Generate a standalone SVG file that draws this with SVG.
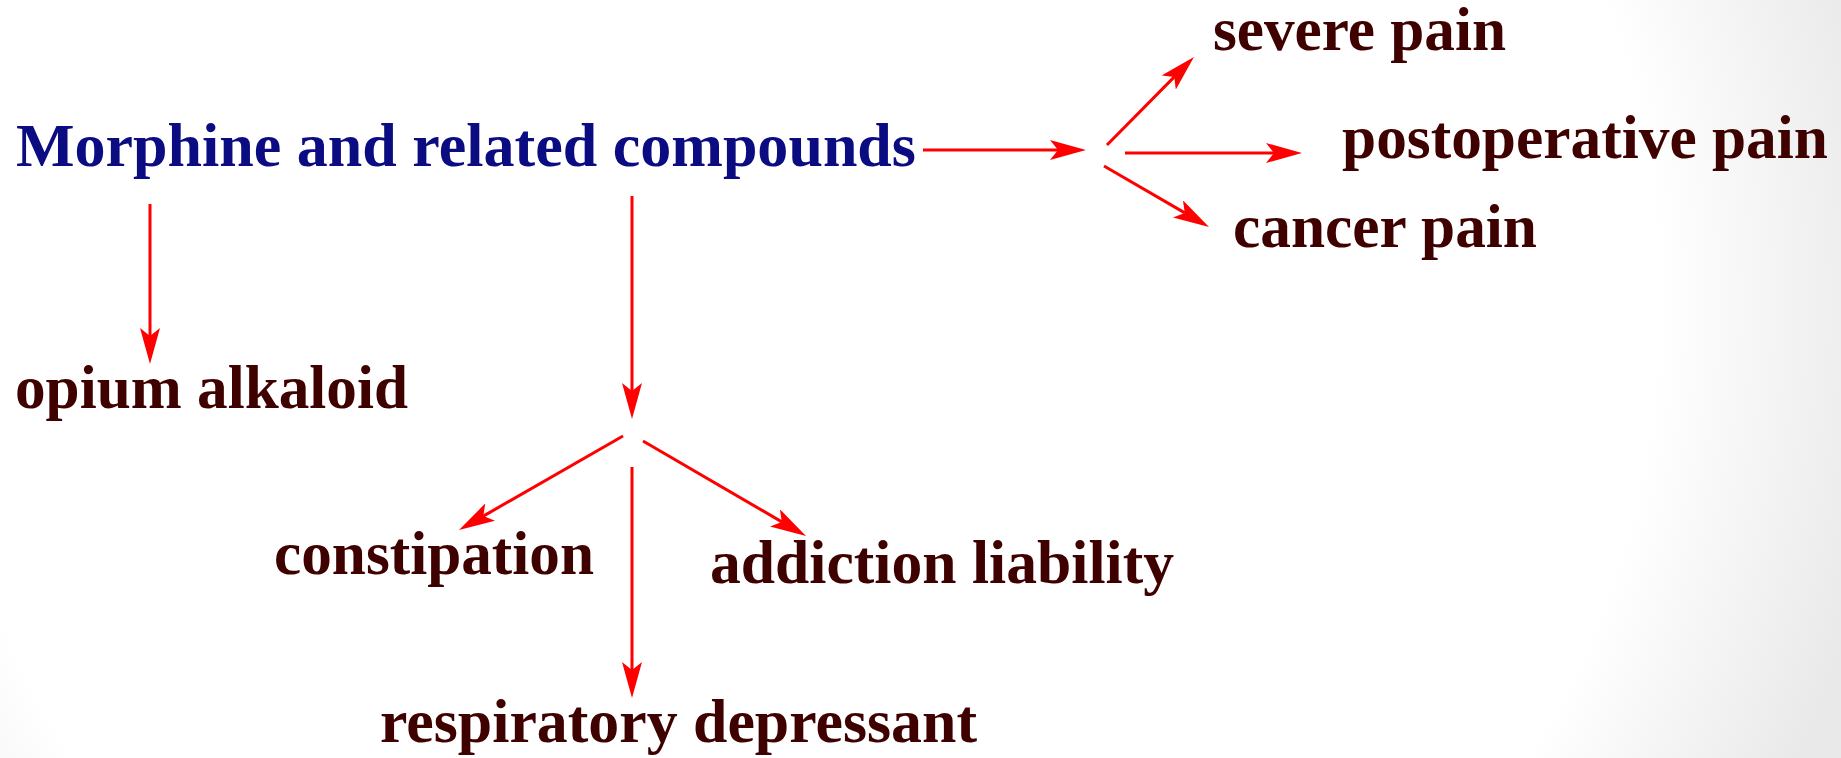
<svg xmlns="http://www.w3.org/2000/svg" width="1841" height="758" viewBox="0 0 1841 758">
<defs>
<radialGradient id="bg" gradientUnits="userSpaceOnUse" cx="800" cy="300" r="1100">
<stop offset="0.78" stop-color="#ffffff"/>
<stop offset="1" stop-color="#e9e9e9"/>
</radialGradient>
<marker id="ah" viewBox="0 0 36 20" refX="8" refY="10" markerWidth="36" markerHeight="20" markerUnits="userSpaceOnUse" orient="auto">
<path d="M0,0 L36,10 L0,20 L8,10 Z" fill="#ff0000"/>
</marker>
<style>
.t{font-family:"Liberation Serif","Times New Roman",serif;font-weight:bold;font-size:61px;fill:#3f0000}
.title{fill:#0b0b82}
.c{stroke:#ff0000;stroke-width:3;fill:none;marker-end:url(#ah)}
</style>
</defs>
<rect width="1841" height="758" fill="url(#bg)"/>
<g id="connectors">
<line class="c" x1="923" y1="150" x2="1058" y2="150"/>
<line class="c" x1="1107" y1="145" x2="1174.3" y2="76.9"/>
<line class="c" x1="1125" y1="153" x2="1274" y2="153"/>
<line class="c" x1="1104" y1="166" x2="1184.8" y2="212.9"/>
<line class="c" x1="150" y1="204" x2="150" y2="336"/>
<line class="c" x1="632" y1="196" x2="632" y2="391"/>
<line class="c" x1="623" y1="436" x2="483.3" y2="516.1"/>
<line class="c" x1="643" y1="441" x2="781.8" y2="521.9"/>
<line class="c" x1="632" y1="467" x2="632" y2="670"/>
</g>
<g id="morphine"><text class="t title" x="16" y="166" textLength="900" lengthAdjust="spacingAndGlyphs">Morphine and related compounds</text></g>
<g id="severe-pain"><text class="t" x="1213" y="50" textLength="293" lengthAdjust="spacingAndGlyphs">severe pain</text></g>
<g id="postoperative-pain"><text class="t" x="1342" y="158" textLength="486" lengthAdjust="spacingAndGlyphs">postoperative pain</text></g>
<g id="cancer-pain"><text class="t" x="1233" y="247" textLength="304" lengthAdjust="spacingAndGlyphs">cancer pain</text></g>
<g id="opium-alkaloid"><text class="t" x="15" y="408" textLength="393" lengthAdjust="spacingAndGlyphs">opium alkaloid</text></g>
<g id="constipation"><text class="t" x="274" y="574" textLength="320" lengthAdjust="spacingAndGlyphs">constipation</text></g>
<g id="addiction-liability"><text class="t" x="710" y="583" textLength="464" lengthAdjust="spacingAndGlyphs">addiction liability</text></g>
<g id="respiratory-depressant"><text class="t" x="380" y="742" textLength="597" lengthAdjust="spacingAndGlyphs">respiratory depressant</text></g>
</svg>
